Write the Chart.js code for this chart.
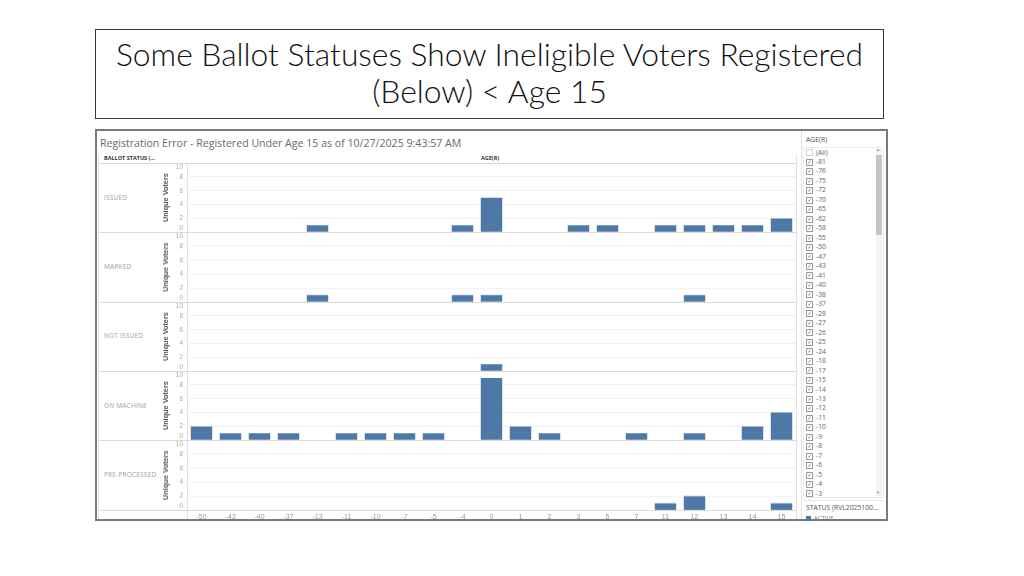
<!DOCTYPE html>
<html>
<head>
<meta charset="utf-8">
<script src="https://cdn.jsdelivr.net/npm/chart.js@4.4.1/dist/chart.umd.min.js"></script>
<style>
body{margin:0;width:1024px;height:576px;background:#fff;position:relative;overflow:hidden;font-family:"Open Sans",sans-serif}
.a{position:absolute;white-space:nowrap}
#slideTitle{left:95px;top:29px;width:789px;height:90px;border:1px solid #3a3a3a;text-align:center;
  font-family:Lato,sans-serif;font-weight:300;font-size:31.8px;line-height:37px;color:#111;padding-top:6px;box-sizing:border-box}
#tab{left:95px;top:129px;width:793px;height:392px;border:2px solid #7a7a7a;box-sizing:border-box;overflow:hidden}
.hl{position:absolute;height:1px;background:#dadada}
.vl{position:absolute;width:1px;background:#e2e2e2}
.rowLbl{position:absolute;left:104px;font-size:6.5px;color:#a0a0a0;letter-spacing:0.2px}
.pane{position:absolute;left:160px;width:640px}
.item{position:absolute;left:806px;font-size:6.8px;color:#666;height:9px;line-height:9px}
.cb{display:inline-block;width:5px;height:5px;border:1px solid #9a9a9a;vertical-align:middle;margin-right:3px;
  font-size:5px;line-height:5px;text-align:center;color:#555;font-family:"DejaVu Sans"}
</style>
</head>
<body>
<div id="slideTitle" class="a">Some Ballot Statuses Show Ineligible Voters Registered<br>(Below) &lt; Age 15</div>
<div id="tab" class="a"></div>
<div id="layer"></div>
<script>
var ageLabels = ["-50","-43","-40","-37","-13","-11","-10","-7","-5","-4","0","1","2","3","6","7","11","12","13","14","15"];
var statusRows = ["ISSUED","MARKED","NOT ISSUED","ON MACHINE","PRE-PROCESSED"];
var issued       = [0,0,0,0,1,0,0,0,0,1,5,0,0,1,1,0,1,1,1,1,2];
var marked       = [0,0,0,0,1,0,0,0,0,1,1,0,0,0,0,0,0,1,0,0,0];
var notIssued    = [0,0,0,0,0,0,0,0,0,0,1,0,0,0,0,0,0,0,0,0,0];
var onMachine    = [2,1,1,1,0,1,1,1,1,0,9,2,1,0,0,1,0,1,0,2,4];
var preProcessed = [0,0,0,0,0,0,0,0,0,0,0,0,0,0,0,0,1,2,0,0,1];
var yTicks = [0,2,4,6,8,10];
var ageFilter = ["(All)","-81","-76","-75","-72","-70","-65","-62","-58","-55","-50","-47","-43","-41","-40","-38","-37",
  "-28","-27","-26","-25","-24","-18","-17","-15","-14","-13","-12","-11","-10","-9","-8","-7","-6","-5","-4","-3"];

var layer = document.getElementById('layer');
function add(cls, css, html) {
  var d = document.createElement('div');
  d.className = cls;
  d.style.cssText = css;
  if (html != null) d.innerHTML = html;
  layer.appendChild(d);
  return d;
}

// tableau sheet text
add('a', 'left:100px;top:136px;font-size:10.6px;color:#6a6a6a;', 'Registration Error - Registered Under Age 15 as of 10/27/2025 9:43:57 AM');
add('a', 'left:104px;top:154px;font-size:5.5px;font-weight:bold;color:#333;', 'BALLOT STATUS (...');
add('a', 'left:481px;top:154px;font-size:5.5px;font-weight:bold;color:#333;', 'AGE(R)');
add('hl', 'left:99px;top:163px;width:697px;');
add('vl', 'left:98px;top:155px;height:364px;');
add('vl', 'left:187px;top:163px;height:356px;');
add('vl', 'left:796px;top:155px;height:364px;');

// keep tick labels inside their pane, like the source
var clampTicks = {
  id: 'clampTicks',
  beforeDraw: function(chart) {
    var s = chart.scales.y;
    s.getLabelItems().forEach(function(it) {
      var t = it.options.translation;
      t[1] = Math.min(Math.max(t[1], s.top + 4.5), s.bottom - 4);
    });
  }
};

var seriesByRow = [issued, marked, notIssued, onMachine, preProcessed];
var paneTop = 163, paneH = 69.3, pad = 10;

seriesByRow.forEach(function(vals, i) {
  var top = paneTop + i * paneH;
  var last = i === seriesByRow.length - 1;
  add('hl', 'left:99px;top:' + (top + paneH) + 'px;width:697px;');
  add('rowLbl', 'top:' + (top + paneH / 2 - 5) + 'px;', statusRows[i]);

  var box = add('pane', 'top:' + (top - pad) + 'px;height:' + (last ? (522 - top + pad) : paneH + 2 * pad) + 'px;');
  var cv = document.createElement('canvas');
  box.appendChild(cv);

  new Chart(cv, {
    type: 'bar',
    data: {
      labels: ageLabels,
      datasets: [{
        label: statusRows[i],
        data: vals,
        backgroundColor: '#4e78a6',
        borderWidth: 0,
        barPercentage: 0.74,
        categoryPercentage: 1
      }]
    },
    options: {
      responsive: true,
      maintainAspectRatio: false,
      animation: false,
      layout: { padding: { top: pad, bottom: last ? 0 : pad, right: 4, left: 0 } },
      plugins: { legend: { display: false }, tooltip: { enabled: false } },
      scales: {
        x: {
          display: last,
          grid: { display: false, drawTicks: false, tickLength: 0 },
          border: { display: false },
          ticks: { font: { size: 7 }, color: '#9a9a9a', padding: 2, maxRotation: 0, autoSkip: false },
          afterFit: function(s) { s.height = last ? 12.4 : 0; }
        },
        y: {
          min: 0,
          max: 10,
          afterBuildTicks: function(s) { s.ticks = yTicks.map(function(v) { return { value: v }; }); },
          afterFit: function(s) { s.width = 27; },
          border: { display: false },
          grid: {
            drawTicks: false,
            color: function(c) { return (c.tick.value === 0 || c.tick.value === 10) ? 'rgba(0,0,0,0)' : '#f1f1f1'; }
          },
          ticks: { font: { size: 6.5 }, color: '#a8a8a8', padding: 4 },
          title: { display: true, text: 'Unique Voters', font: { size: 7.3, weight: 'bold' }, color: '#555', padding: { top: 2, bottom: 0 } }
        }
      }
    },
    plugins: [clampTicks]
  });
});

// right filter panel
add('vl', 'left:801px;top:131px;height:388px;');
add('a', 'left:806px;top:135px;font-size:6.8px;color:#555;', 'AGE(R)');
add('a', 'left:803px;top:147px;width:81px;height:351px;border:1px solid #ececec;box-sizing:border-box;');
ageFilter.forEach(function(v, i) {
  var y = 152 + i * 9.48 - 4.5;
  var mark = i === 0 ? '' : '&#10003;';
  var bc = i === 0 ? '#d0d0d0' : '#9a9a9a';
  add('item', 'top:' + y + 'px;', '<span class="cb" style="border-color:' + bc + '">' + mark + '</span>' + v);
});
add('a', 'left:876px;top:149px;width:6px;height:347px;background:#f4f4f4;');
add('a', 'left:876px;top:155px;width:6px;height:80px;background:#c6c6c6;');
add('a', 'left:876px;top:147px;font-size:4px;color:#888;', '&#9650;');
add('a', 'left:876px;top:490px;font-size:4px;color:#888;', '&#9660;');
add('hl', 'left:803px;top:500px;width:81px;background:#e6e6e6;');
add('a', 'left:806px;top:503px;font-size:6.8px;color:#555;', 'STATUS (RVL2025100...');
add('a', 'left:806px;top:516px;width:5px;height:5px;background:#4e78a6;');
add('a', 'left:814px;top:514px;font-size:6px;color:#777;height:5px;overflow:hidden;', 'ACTIVE');
</script>
</body>
</html>
